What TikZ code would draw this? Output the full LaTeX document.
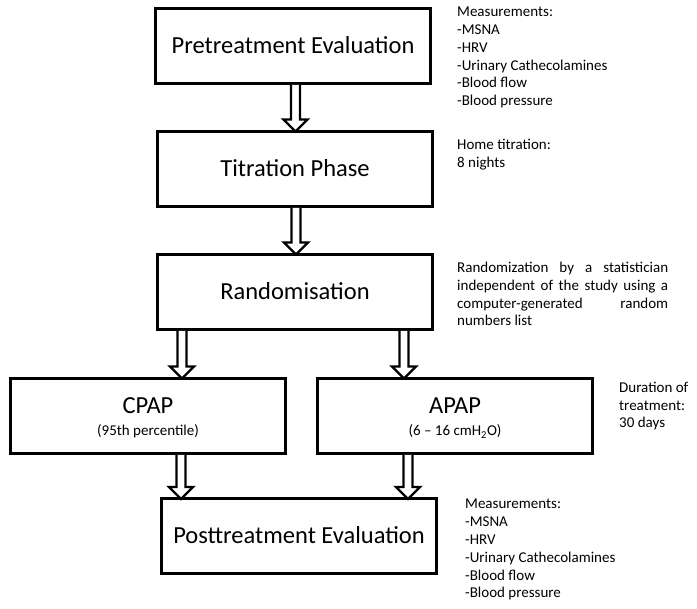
\documentclass[tikz,border=0pt]{standalone}
\usepackage{fontspec}
\setmainfont{Carlito}
\usetikzlibrary{calc}
\begin{document}
\begin{tikzpicture}[x=1pt,y=-1pt,
  box/.style={draw, line width=3pt, minimum width=275pt, minimum height=75pt, inner sep=0pt, outer sep=0pt},
  big/.style={font=\fontsize{24.5}{29}\selectfont, inner sep=0pt, anchor=base},
  small/.style={font=\fontsize{15}{18}\selectfont, inner sep=0pt, anchor=base},
  side/.style={inner sep=0pt, anchor=base west},
  hollow/.style={draw, line width=2.3pt, fill=white, line join=miter,
    to path={let \p1=(\tikztostart), \p2=(\tikztotarget) in
      (\x1-4.5pt,\y1-1.5pt) -- (\x1-4.5pt,\y2+12pt) -- (\x1-12pt,\y2+12pt) -- (\x1,\y2)
      -- (\x1+12pt,\y2+12pt) -- (\x1+4.5pt,\y2+12pt) -- (\x1+4.5pt,\y1-1.5pt)}}]
\useasboundingbox (0,0) rectangle (697,609);

% boxes
\node[box] (pre)  at (293,46)    {};
\node[box] (tit)  at (295,169)   {};
\node[box] (rand) at (295,292)   {};
\node[box] (cpap) at (148,416)   {};
\node[box] (apap) at (455,416)   {};
\node[box] (post) at (299,536.5) {};

% box labels
\node[big] (preT)  at ($(pre.center)+(0,8)$)  {Pretreatment Evaluation};
\node[big] (titT)  at ($(tit.center)+(0,8)$)  {Titration Phase};
\node[big] (randT) at ($(rand.center)+(0,8)$) {Randomisation};
\node[big] (cpapT) at ($(cpap.center)+(0,-2)$) {CPAP};
\node[small] (cpapS) at ($(cpap.center)+(0,20)$) {(95th percentile)};
\node[big] (apapT) at ($(apap.center)+(0,-2)$) {APAP};
\node[small] (apapS) at ($(apap.center)+(0,20)$) {(6 – 16 cmH\textsubscript{2}O)};
\node[big] (postT) at ($(post.center)+(0,7)$) {Posttreatment Evaluation};

% arrow positions
\coordinate (a1) at (295.5,0);
\coordinate (a2) at (296,0);
\coordinate (a3) at (182,0);
\coordinate (a4) at (404,0);
\coordinate (a5) at (181,0);
\coordinate (a6) at (408,0);

\draw[hollow] (pre.south -| a1) to (tit.north -| a1);
\draw[hollow] (tit.south -| a2) to (rand.north -| a2);
\draw[hollow] (rand.south -| a3) to (cpap.north -| a3);
\draw[hollow] (rand.south -| a4) to (apap.north -| a4);
\draw[hollow] (cpap.south -| a5) to (post.north -| a5);
\draw[hollow] (apap.south -| a6) to (post.north -| a6);

% side notes
\node[side] (meas1) at (457,17) {\parbox[t]{220pt}{\raggedright\fontsize{15}{17.7}\selectfont
  Measurements:\\-MSNA\\-HRV\\-Urinary Cathecolamines\\-Blood flow\\-Blood pressure}};
\node[side] (home) at (457,150) {\parbox[t]{220pt}{\raggedright\fontsize{15}{17.5}\selectfont
  Home titration:\\8 nights}};
\node[side] (randN) at (457,272.5) {\parbox[t]{211pt}{\noindent\fontsize{15}{17.8}\selectfont
  \makebox[211pt][s]{Randomization by a statistician}\\
  \makebox[211pt][s]{independent of the study using a}\\
  \makebox[211pt][s]{computer-generated random}\\
  numbers list}};
\node[side] (dur) at (619,393) {\parbox[t]{80pt}{\raggedright\fontsize{15}{17.5}\selectfont
  Duration of\\treatment:\\30 days}};
\node[side] (meas2) at (465,509) {\parbox[t]{220pt}{\raggedright\fontsize{15}{17.8}\selectfont
  Measurements:\\-MSNA\\-HRV\\-Urinary Cathecolamines\\-Blood flow\\-Blood pressure}};
\end{tikzpicture}
\end{document}
